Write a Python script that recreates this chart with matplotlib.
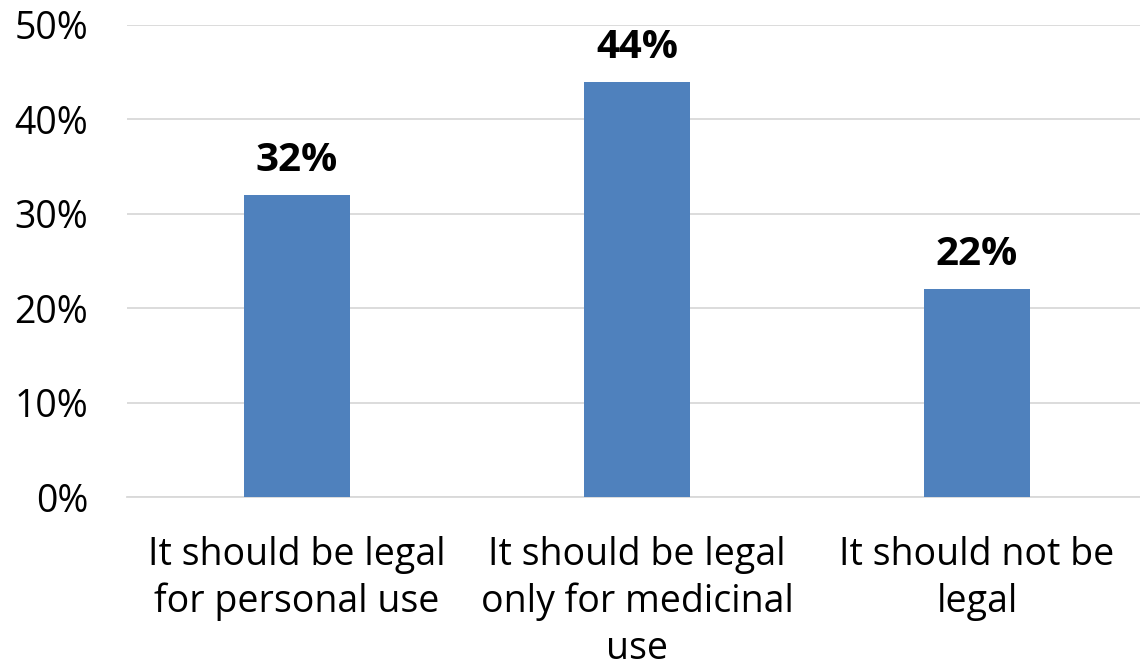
import matplotlib
matplotlib.use('Agg')
import matplotlib.pyplot as plt

# answers and share of respondents
categories = ['It should be legal\nfor personal use',
              'It should be legal\nonly for medicinal\nuse',
              'It should not be\nlegal']
shares = [32, 44, 22]
yticks = [0, 10, 20, 30, 40, 50]

plt.rcParams['font.family'] = ['Open Sans', 'DejaVu Sans']

fig = plt.figure(figsize=(11.4, 6.72), dpi=100)
ax = fig.add_axes([0.1114, 0.2604, 0.8947, 0.7024])

pos = range(len(categories))
bars = ax.bar(pos, shares, width=0.31, color='#4F81BD', zorder=3)

for b, v in zip(bars, shares):
    ax.text(b.get_x() + b.get_width() / 2, v + 1.6, '{}%'.format(v),
            ha='center', va='bottom', fontsize=29, fontweight='bold')

ax.set_xlim(-0.5, 2.5)
ax.set_ylim(0, 50)
ax.set_yticks(yticks)
ax.set_yticklabels(['{}%'.format(t) for t in yticks], fontsize=27)
ax.set_xticks(list(pos))
ax.set_xticklabels(categories, fontsize=27, linespacing=1.3)
ax.tick_params(axis='y', length=0, pad=28)
ax.tick_params(axis='x', length=0, pad=28)

ax.yaxis.grid(True, color='#D9D9D9', linewidth=1.3, zorder=0)
for s in ['top', 'right', 'left']:
    ax.spines[s].set_visible(False)
ax.spines['bottom'].set_color('#D9D9D9')
ax.spines['bottom'].set_linewidth(1.3)

fig.savefig('out.png', dpi=100)
